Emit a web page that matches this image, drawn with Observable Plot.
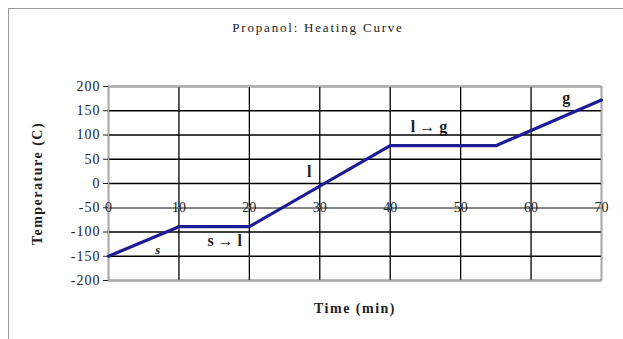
<!DOCTYPE html>
<html><head><meta charset="utf-8">
<script src="https://cdn.jsdelivr.net/npm/d3@7"></script>
<script src="https://cdn.jsdelivr.net/npm/@observablehq/plot@0.6"></script>
<style>
body{margin:0;background:#fff;}
#wrap{position:relative;width:623px;height:339px;overflow:hidden;}
#border{position:absolute;left:8px;top:8px;width:640px;height:360px;border:1.5px solid #999;box-sizing:border-box;}
#title{position:absolute;left:0;width:636px;top:20px;text-align:center;font:13px "Liberation Serif",serif;letter-spacing:1.8px;color:#222;}
#chart{position:absolute;left:0;top:0;}
</style></head>
<body><div id="wrap"><div id="border"></div><div id="title">Propanol: Heating Curve</div><div id="chart"></div></div>
<script>
const time = [0, 10, 20, 40, 55, 70];
const temperature = [-150, -89, -89, 78, 78, 172];
const xTicks = [0, 10, 20, 30, 40, 50, 60, 70];
const yTicks = [-200, -150, -100, -50, 0, 50, 100, 150, 200];
const labelText = ["s", "s \u2192 l", "l", "l \u2192 g", "g"];
const labelX = [7, 16.5, 28.5, 45.5, 65];
const labelY = [-137, -118, 24, 117, 177];
const labelItalic = [true, false, false, false, false];

const pts = time.map((t, i) => ({t, v: temperature[i]}));
const labels = labelText.map((s, i) => ({s, x: labelX[i], y: labelY[i], it: labelItalic[i]}));

const chart = Plot.plot({
  width: 623, height: 339,
  marginLeft: 108, marginRight: 22, marginTop: 86, marginBottom: 59,
  style: {fontFamily: "'Liberation Serif', serif", fontSize: "14px", background: "transparent", color: "#222"},
  x: {domain: [0, 70]},
  y: {domain: [-200, 200]},
  marks: [
    Plot.gridX(xTicks, {stroke: "#000", strokeOpacity: 1, strokeWidth: 1.3}),
    Plot.gridY(yTicks, {stroke: "#000", strokeOpacity: 1, strokeWidth: 1.3}),
    Plot.ruleY([-50], {stroke: "#888", strokeWidth: 1.5}),
    Plot.frame({stroke: "#aaa", strokeWidth: 1.5}),
    Plot.axisY(yTicks, {tickSize: 5, tickPadding: 3, fontSize: 14, tickFormat: d => String(d), label: "Temperature (C)", labelAnchor: "center", labelArrow: "none", labelOffset: 76}),
    Plot.axisX({ticks: [], label: "Time (min)", labelAnchor: "center", labelArrow: "none", labelOffset: 32}),
    Plot.text(xTicks, {x: d => d, y: -50, text: d => String(d), fontSize: 14, fill: "#222"}),
    Plot.line(pts, {x: "t", y: "v", stroke: "#1c1c94", strokeWidth: 3.2, strokeLinejoin: "miter"}),
    Plot.text(labels.filter(d => d.it), {x: "x", y: "y", text: "s", fontStyle: "italic", fontSize: 13, fill: "#222", fontWeight: "bold"}),
    Plot.text(labels.filter(d => !d.it), {x: "x", y: "y", text: "s", fontSize: 16, fill: "#222", fontWeight: "bold"})
  ]
});
document.getElementById("chart").append(chart);
chart.querySelectorAll("[aria-label='y-axis label'] text, [aria-label='x-axis label'] text").forEach(t => {
  t.setAttribute("font-weight", "bold"); t.setAttribute("font-size", "14"); t.style.letterSpacing = "1.5px";
});
chart.querySelectorAll("[aria-label='y-axis tick label'] text").forEach(t => { t.style.letterSpacing = "1px"; });
</script></body></html>
